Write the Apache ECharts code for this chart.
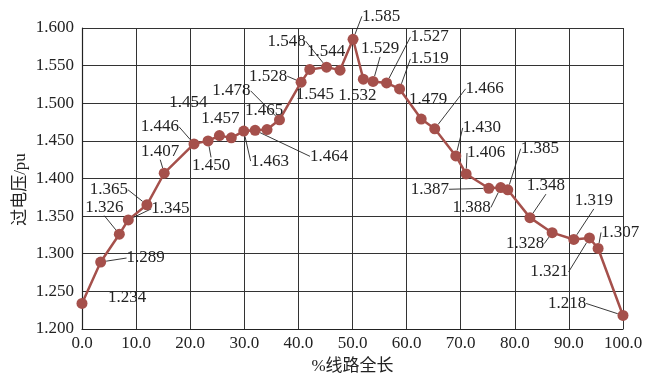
<!DOCTYPE html>
<html><head><meta charset="utf-8">
<script src="https://cdn.jsdelivr.net/npm/echarts@6/dist/echarts.min.js"></script>
<style>html,body{margin:0;padding:0;background:#fff}#c{width:647px;height:379px}</style>
</head><body><div id="c"></div>
<script>
// Data
const positions = [0, 3.45, 6.9, 8.56, 12.0, 15.2, 20.7, 23.3, 25.4, 27.6, 29.9, 32.0, 34.2, 36.5, 40.5, 42.1, 45.2, 47.7, 50.1, 52.0, 53.8, 56.3, 58.7, 62.7, 65.2, 69.1, 71.0, 75.2, 77.4, 78.7, 82.8, 86.9, 90.9, 93.8, 95.4, 100];
const overvoltage = [1.234,1.289,1.326,1.345,1.365,1.407,1.446,1.450,1.457,1.454,1.463,1.464,1.465,1.478,1.528,1.545,1.548,1.544,1.585,1.532,1.529,1.527,1.519,1.479,1.466,1.430,1.406,1.387,1.388,1.385,1.348,1.328,1.319,1.321,1.307,1.218];
const xTicks = { min: 0, max: 100, step: 10 };
const yTicks = { min: 1.2, max: 1.6, step: 0.05 };

// Label layout (style, not data)
const labelOffsets = [[45,-6],[45,-4],[-15,-27],[42,-11],[-38,-15],[-4,-22],[-34,-17],[3,25],[1,-17],[-43,-35],[26,30],[74,26],[-3,-19],[-48,-29],[-33,-6],[5,25],[-40,-26],[-14,-19],[28,-23],[-6,16],[7,-33],[43,-46],[30,-30],[7,-20],[50,-40],[26,-28],[20,-21],[-59,1],[-29,20],[32,-41],[16,-32],[-27,11],[20,-39],[-40,34],[22,-16],[-56,-12]];
const leader = [0,1,1,1,1,1,1,1,0,0,1,1,0,1,1,0,1,0,1,0,1,1,1,0,1,1,1,1,1,1,1,1,1,1,1,1];

const serif = '"Liberation Serif","Times New Roman","Noto Sans CJK SC",serif';
const lineColor = '#a5504b';

const data = positions.map((x, i) => ({
  value: [x, overvoltage[i]],
  labelLine: { show: !!leader[i] }
}));

const chart = echarts.init(document.getElementById('c'), null, { renderer: 'canvas' });
chart.setOption({
  animation: false,
  backgroundColor: '#fff',
  grid: { left: 82, right: 24, top: 28, bottom: 50, containLabel: false, outerBoundsMode: 'none' },
  xAxis: {
    type: 'value', min: xTicks.min, max: xTicks.max, interval: xTicks.step,
    name: '%线路全长', nameLocation: 'middle', nameGap: 29, nameMoveOverlap: false,
    nameTextStyle: { fontFamily: serif, fontSize: 17, color: '#222' },
    axisLine: { show: true, lineStyle: { color: '#222', width: 1.2 } },
    axisTick: { show: false },
    axisLabel: { fontFamily: serif, fontSize: 17, color: '#222', margin: 6, formatter: v => v.toFixed(1) },
    splitLine: { show: true, lineStyle: { color: '#333', width: 1 } }
  },
  yAxis: {
    type: 'value', min: yTicks.min, max: yTicks.max, interval: yTicks.step,
    name: '过电压/pu', nameLocation: 'middle', nameGap: 53, nameRotate: 90, nameMoveOverlap: false,
    nameTextStyle: { fontFamily: serif, fontSize: 17, color: '#222', padding: [0, 22, 0, 0] },
    axisLine: { show: true, lineStyle: { color: '#222', width: 1.2 } },
    axisTick: { show: false },
    axisLabel: { fontFamily: serif, fontSize: 17, color: '#222', margin: 8, formatter: v => v.toFixed(3) },
    splitLine: { show: true, lineStyle: { color: '#333', width: 1 } }
  },
  series: [{
    type: 'line',
    data: data,
    symbol: 'circle',
    symbolSize: 11,
    lineStyle: { color: lineColor, width: 2.5 },
    itemStyle: { color: lineColor },
    label: {
      show: true, position: 'inside',
      fontFamily: serif, fontSize: 17, color: '#222',
      formatter: p => overvoltage[p.dataIndex].toFixed(3)
    },
    labelLine: { show: true, lineStyle: { color: '#222', width: 0.9 } },
    labelLayout: p => ({ dx: labelOffsets[p.dataIndex][0], dy: labelOffsets[p.dataIndex][1] })
  }]
});
</script></body></html>
